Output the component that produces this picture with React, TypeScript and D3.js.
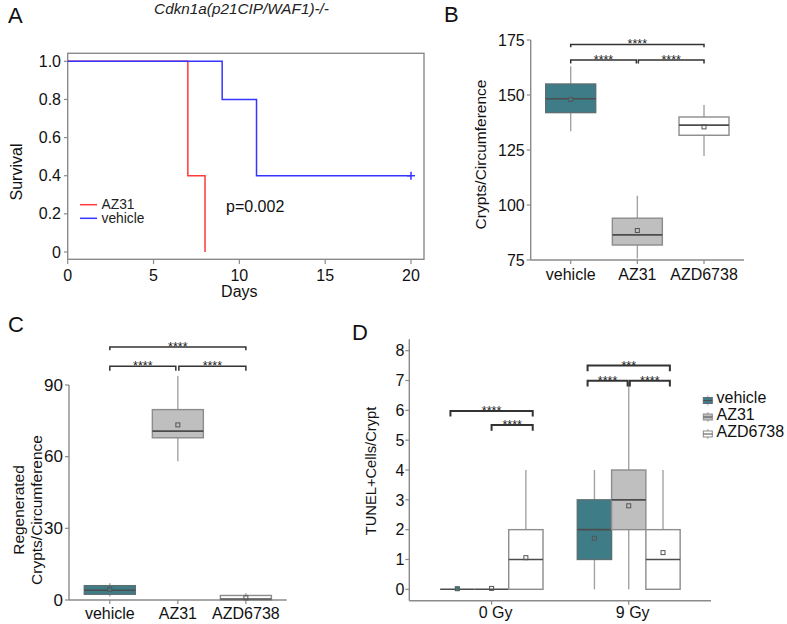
import React from 'react';
import * as d3 from 'd3';

// Panel A – Kaplan–Meier
const kmAZ31Days = [0, 7, 8];
const kmAZ31Surv = [1, 0.4, 0];
const kmVehicleDays = [0, 9, 11, 20];
const kmVehicleSurv = [1, 0.8, 0.4, 0.4];
const kmCensorDays = [20];
const kmCensorSurv = [0.4];
const kmXTicks = [0, 5, 10, 15, 20];
const kmYTicks = [0, 0.2, 0.4, 0.6, 0.8, 1.0];

// groups
const groups = ['vehicle', 'AZ31', 'AZD6738'];
const groupFill = ['#3e7d88', '#bfbfbf', '#ffffff'];

// Panel B – Crypts/Circumference
const bLow = [133.5, 75.7, 122.3];
const bQ1 = [142, 81.8, 131.7];
const bMed = [148.3, 86.4, 136.3];
const bQ3 = [155, 94, 140];
const bHigh = [163, 104.2, 145.4];
const bMean = [148, 88.4, 135.5];
const bTicks = [75, 100, 125, 150, 175];

// Panel C – Regenerated crypts
const cLow = [1.5, 58.1, 0];
const cQ1 = [2.4, 67.9, 0];
const cMed = [4.1, 70.7, 0.4];
const cQ3 = [6, 79.7, 1.9];
const cHigh = [7, 93.8, 2.8];
const cMean = [4.5, 73.3, 0.9];
const cTicks = [0, 30, 60, 90];

// Panel D – TUNEL+ cells per crypt (per group, per dose)
const doses = ['0 Gy', '9 Gy'];
const dLow = [[0, 0], [0, 0], [0, 0]];
const dQ1 = [[0, 1], [0, 2], [0, 0]];
const dMed = [[0, 2], [0, 3], [1, 1]];
const dQ3 = [[0, 3], [0, 4], [2, 2]];
const dHigh = [[0, 4], [0, 6.96], [4, 4]];
const dMean = [[0.02, 1.71], [0.03, 2.8], [1.06, 1.23]];
const dTicks = [0, 1, 2, 3, 4, 5, 6, 7, 8];

const FONT = '"Liberation Sans", Arial, Helvetica, sans-serif';
const AXIS = '#8a8a8a';

type Stats = { low: number; q1: number; med: number; q3: number; high: number; mean: number };

function Box({ cx, w, y, s, fill }: { cx: number; w: number; y: d3.ScaleLinear<number, number>; s: Stats; fill: string }) {
  const dark = fill !== '#ffffff' && fill !== '#bfbfbf';
  return (
    <g>
      <line x1={cx} x2={cx} y1={y(s.q3)} y2={y(s.high)} stroke="#a3a3a3" strokeWidth={1.4} />
      <line x1={cx} x2={cx} y1={y(s.q1)} y2={y(s.low)} stroke="#a3a3a3" strokeWidth={1.4} />
      <rect x={cx - w / 2} y={y(s.q3)} width={w} height={Math.max(0, y(s.q1) - y(s.q3))}
        fill={fill} stroke={dark ? '#5d6f73' : '#8c8c8c'} strokeWidth={1.4} />
      <line x1={cx - w / 2} x2={cx + w / 2} y1={y(s.med)} y2={y(s.med)} stroke="#4d4d4d" strokeWidth={1.6} />
      <rect x={cx - 2} y={y(s.mean) - 2} width={4} height={4} fill={dark ? fill : 'none'} stroke="#555" strokeWidth={1} />
    </g>
  );
}

function Bracket({ x1, x2, yb, yt, label, sw = 1.5 }: { x1: number; x2: number; yb: number; yt: number; label: string; sw?: number }) {
  return (
    <g>
      <path d={`M${x1},${yt}V${yb}H${x2}V${yt}`} fill="none" stroke="#333" strokeWidth={sw} />
      <text x={(x1 + x2) / 2} y={yb + 4} textAnchor="middle" fontSize={12.5} fill="#222">{label}</text>
    </g>
  );
}

function PanelA() {
  const x = d3.scaleLinear().domain([0, 20]).range([67.7, 411]);
  const y = d3.scaleLinear().domain([0, 1]).range([252, 61.3]);
  const line = d3.line<[number, number]>().x(d => x(d[0])).y(d => y(d[1])).curve(d3.curveStepAfter);
  const az = kmAZ31Days.map((d, i) => [d, kmAZ31Surv[i]] as [number, number]);
  const veh = kmVehicleDays.map((d, i) => [d, kmVehicleSurv[i]] as [number, number]);
  return (
    <g fontFamily={FONT}>
      <text x={8} y={23} fontSize={22} fill="#111">A</text>
      <text x={241.5} y={13.5} fontSize={15.3} fontStyle="italic" textAnchor="middle" fill="#222">Cdkn1a(p21CIP/WAF1)-/-</text>
      <rect x={67.7} y={53.3} width={424 - 67.7} height={259.3 - 53.3} fill="none" stroke={AXIS} strokeWidth={1.4} />
      {kmYTicks.map(t => (
        <g key={t}>
          <line x1={64} x2={67.7} y1={y(t)} y2={y(t)} stroke={AXIS} strokeWidth={1.2} />
          <text x={61} y={y(t) + 5.5} fontSize={16} textAnchor="end" fill="#111">{t === 0 ? '0' : t.toFixed(1)}</text>
        </g>
      ))}
      {kmXTicks.map(t => (
        <g key={t}>
          <line x1={x(t)} x2={x(t)} y1={259.3} y2={264} stroke={AXIS} strokeWidth={1.2} />
          <text x={x(t)} y={280.5} fontSize={16} textAnchor="middle" fill="#111">{t}</text>
        </g>
      ))}
      <text x={x(10)} y={296.5} fontSize={16} textAnchor="middle" fill="#111">Days</text>
      <text transform="translate(22,172) rotate(-90)" fontSize={16} textAnchor="middle" fill="#111">Survival</text>
      <path d={line(az) || ''} fill="none" stroke="#ff3a3a" strokeWidth={1.5} />
      <path d={line(veh) || ''} fill="none" stroke="#3535ff" strokeWidth={1.5} />
      {kmCensorDays.map((d, i) => (
        <g key={i}>
          <line x1={x(d)} x2={x(d)} y1={y(kmCensorSurv[i]) - 4} y2={y(kmCensorSurv[i]) + 4} stroke="#3535ff" strokeWidth={1.5} />
          <line x1={x(d) - 4} x2={x(d) + 4} y1={y(kmCensorSurv[i])} y2={y(kmCensorSurv[i])} stroke="#3535ff" strokeWidth={1.5} />
        </g>
      ))}
      <line x1={80} x2={97} y1={204.7} y2={204.7} stroke="#ff3a3a" strokeWidth={1.5} />
      <line x1={80} x2={97} y1={218.3} y2={218.3} stroke="#3535ff" strokeWidth={1.5} />
      <text x={101.5} y={209} fontSize={13.8} fill="#222">AZ31</text>
      <text x={101.5} y={223.2} fontSize={13.8} fill="#222">vehicle</text>
      <text x={226} y={211.5} fontSize={16} fill="#111">p=0.002</text>
    </g>
  );
}

function CategoryPanel({ letter, letterPos, left, right, top, bottom, domain, ticks, stats, brackets, yLabel, labelX, labelY, tickFont, xLabelY }: any) {
  const x = d3.scalePoint<string>().domain(groups).range([left, right]).padding(0.6);
  const y = d3.scaleLinear().domain(domain).range([bottom, top]);
  const step = x.step();
  return (
    <g fontFamily={FONT}>
      <text x={letterPos[0]} y={letterPos[1]} fontSize={22} fill="#111">{letter}</text>
      <line x1={left} x2={left} y1={top} y2={bottom} stroke={AXIS} strokeWidth={1.4} />
      <line x1={left} x2={right} y1={bottom} y2={bottom} stroke={AXIS} strokeWidth={1.4} />
      {ticks.map((t: number) => (
        <g key={t}>
          <line x1={left - 4} x2={left} y1={y(t)} y2={y(t)} stroke={AXIS} strokeWidth={1.2} />
          <text x={left - 6} y={y(t) + 5.7} fontSize={tickFont} textAnchor="end" fill="#111">{t}</text>
        </g>
      ))}
      {groups.map(g => (
        <g key={g}>
          <line x1={x(g)!} x2={x(g)!} y1={bottom} y2={bottom + 4} stroke={AXIS} strokeWidth={1.2} />
          <text x={x(g)!} y={xLabelY} fontSize={16} textAnchor="middle" fill="#111">{g}</text>
        </g>
      ))}
      {yLabel.map((l: string, i: number) => (
        <text key={i} transform={`translate(${labelX[i]},${labelY}) rotate(-90)`} fontSize={15.5} textAnchor="middle" fill="#111">{l}</text>
      ))}
      {groups.map((g, i) => (
        <Box key={g} cx={x(g)!} w={step * 0.75} y={y} fill={groupFill[i]}
          s={{ low: stats[0][i], q1: stats[1][i], med: stats[2][i], q3: stats[3][i], high: stats[4][i], mean: stats[5][i] }} />
      ))}
      {brackets.map((b: any, i: number) => (
        <Bracket key={i} x1={x(groups[b.from])! + b.o1 * step} x2={x(groups[b.to])! + b.o2 * step}
          yb={y(b.y)} yt={y(b.tip)} label={b.label} />
      ))}
    </g>
  );
}

function PanelD() {
  const left = 409.3, right = 711, top = 339.3, bottom = 600.7;
  const x = d3.scalePoint<string>().domain(doses).range([left, right]).padding(0.6);
  const y = d3.scaleLinear().domain([0, 8]).range([589.3, 350.7]);
  const step = x.step();
  const dodge = step * 0.25;
  const brackets = [
    { dose: 0, o1: -0.3, o2: 0.3, y: 5.98, tip: 5.79, label: '****' },
    { dose: 0, o1: 0, o2: 0.3, y: 5.51, tip: 5.32, label: '****' },
    { dose: 1, o1: -0.3, o2: 0.3, y: 7.5, tip: 7.31, label: '***' },
    { dose: 1, o1: -0.3, o2: -0.008, y: 6.99, tip: 6.8, label: '****' },
    { dose: 1, o1: 0.008, o2: 0.3, y: 6.99, tip: 6.8, label: '****' },
  ];
  const legendBase = [403, 419.5, 436.5];
  return (
    <g fontFamily={FONT}>
      <text x={352} y={340} fontSize={22} fill="#111">D</text>
      <line x1={left} x2={left} y1={top} y2={bottom} stroke={AXIS} strokeWidth={1.4} />
      <line x1={left} x2={right} y1={bottom} y2={bottom} stroke={AXIS} strokeWidth={1.4} />
      {dTicks.map(t => (
        <g key={t}>
          <line x1={left - 4} x2={left} y1={y(t)} y2={y(t)} stroke={AXIS} strokeWidth={1.2} />
          <text x={left - 5} y={y(t) + 5.7} fontSize={16} textAnchor="end" fill="#111">{t}</text>
        </g>
      ))}
      {doses.map(d => (
        <g key={d}>
          <line x1={x(d)!} x2={x(d)!} y1={bottom} y2={bottom + 4} stroke={AXIS} strokeWidth={1.2} />
          <text x={x(d)! + 4} y={618} fontSize={16} textAnchor="middle" fill="#111">{d}</text>
        </g>
      ))}
      <text transform="translate(376,471) rotate(-90)" fontSize={14.7} textAnchor="middle" fill="#111">TUNEL+Cells/Crypt</text>
      {doses.map((d, j) => groups.map((g, i) => (
        <Box key={d + g} cx={x(d)! + (i - 1) * dodge} w={dodge} y={y} fill={groupFill[i]}
          s={{ low: dLow[i][j], q1: dQ1[i][j], med: dMed[i][j], q3: dQ3[i][j], high: dHigh[i][j], mean: dMean[i][j] }} />
      )))}
      {brackets.map((b, i) => (
        <Bracket key={i} x1={x(doses[b.dose])! + b.o1 * step} x2={x(doses[b.dose])! + b.o2 * step}
          yb={y(b.y)} yt={y(b.tip)} label={b.label} sw={2} />
      ))}
      {groups.map((g, i) => {
        const cy = legendBase[i] - 2.5;
        return (
          <g key={g}>
            <line x1={707.8} x2={707.8} y1={cy - 5} y2={cy + 5} stroke="#a3a3a3" strokeWidth={1} />
            <rect x={703.3} y={cy - 3} width={9} height={6} fill={groupFill[i]} stroke={i === 0 ? '#5d6f73' : '#8c8c8c'} strokeWidth={1} />
            <line x1={703.3} x2={712.3} y1={cy} y2={cy} stroke="#4d4d4d" strokeWidth={1} />
            <text x={716.5} y={legendBase[i]} fontSize={16} fill="#111">{g}</text>
          </g>
        );
      })}
    </g>
  );
}

export default function App() {
  return (
    <svg width={787} height={624} style={{ position: 'absolute', left: 0, top: 0, background: '#fff' }}>
      <PanelA />
      <CategoryPanel letter="B" letterPos={[444, 22]} left={530.7} right={744} top={40} bottom={260}
        domain={[75, 175]} ticks={bTicks} stats={[bLow, bQ1, bMed, bQ3, bHigh, bMean]}
        yLabel={['Crypts/Circumference']} labelX={[486]} labelY={154.5} tickFont={16} xLabelY={280}
        brackets={[
          { from: 0, to: 2, o1: 0, o2: 0, y: 173, tip: 171.7, label: '****' },
          { from: 0, to: 1, o1: 0, o2: -0.015, y: 165.9, tip: 164.3, label: '****' },
          { from: 1, to: 2, o1: 0.015, o2: 0, y: 165.9, tip: 164.3, label: '****' },
        ]}
      />
      <CategoryPanel letter="C" letterPos={[8, 331.5]} left={69} right={286.7} top={385} bottom={600}
        domain={[0, 90]} ticks={cTicks} stats={[cLow, cQ1, cMed, cQ3, cHigh, cMean]}
        yLabel={['Regenerated', 'Crypts/Circumference']} labelX={[24, 42]} labelY={510} tickFont={17} xLabelY={619}
        brackets={[
          { from: 0, to: 2, o1: 0, o2: 0, y: 105.9, tip: 104.5, label: '****' },
          { from: 0, to: 1, o1: 0, o2: -0.03, y: 97.9, tip: 96, label: '****' },
          { from: 1, to: 2, o1: 0.015, o2: 0, y: 97.9, tip: 96, label: '****' },
        ]}
      />
      <PanelD />
    </svg>
  );
}
